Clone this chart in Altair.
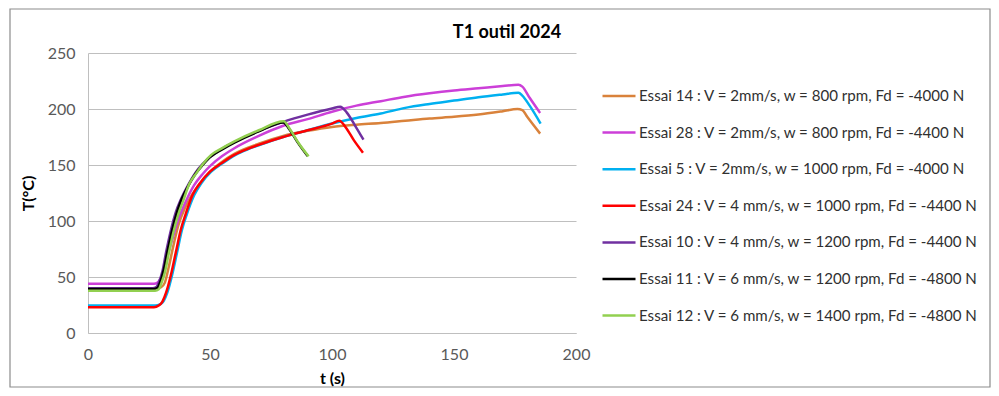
import altair as alt
import pandas as pd

title_text = "T1 outil 2024"
series = [
    "Essai 14 : V = 2mm/s, w = 800 rpm, Fd = -4000 N",
    "Essai 28 : V = 2mm/s, w = 800 rpm, Fd = -4400 N",
    "Essai 5 : V = 2mm/s, w = 1000 rpm, Fd = -4000 N",
    "Essai 24 : V = 4 mm/s, w = 1000 rpm, Fd = -4400 N",
    "Essai 10 : V = 4 mm/s, w = 1200 rpm, Fd = -4400 N",
    "Essai 11 : V = 6 mm/s, w = 1200 rpm, Fd = -4800 N",
    "Essai 12 : V = 6 mm/s, w = 1400 rpm, Fd = -4800 N",
]
colors = ["#D9823B", "#CC3FD8", "#00B0F0", "#FF0000", "#7030A0", "#000000", "#92D050"]

# Essai 14
t_14 = [0, 28, 30, 31.5, 33, 35, 37, 40, 45, 50, 55, 60, 70, 80, 90, 100, 110, 120, 130, 140, 150, 160, 170, 176, 178, 180, 185.3]
T_14 = [40, 40, 41, 45, 58, 78, 96, 113, 131, 144, 153, 160, 169, 176, 180.5, 184, 186, 187.5, 189.5, 191.5, 193, 195, 198, 200, 199, 193, 178]
# Essai 28
t_28 = [0, 27, 28.5, 30, 31.5, 33, 35, 37, 40, 43.5, 47, 50, 55, 60, 70, 80, 90, 100, 110, 120, 130, 140, 150, 160, 170, 176.4, 178, 181, 185.3]
T_28 = [44, 44, 45, 50, 60, 72, 87, 101, 117, 132, 142, 149, 158, 165, 176, 185, 191, 197.5, 203, 207, 211, 214, 216.5, 218.5, 220.5, 221.7, 220, 210, 196.4]
# Essai 5
t_5 = [0, 27.5, 29.5, 31, 32.5, 34.5, 36.5, 38.5, 40.5, 43.5, 46.5, 50.5, 55.5, 60.5, 65.5, 70.5, 80, 90, 100, 110, 120, 130, 140, 150, 160, 170, 176.4, 178, 181, 185.5]
T_5 = [24.5, 24.5, 25.5, 28.5, 36, 52, 72, 92, 106, 123, 134, 144, 152, 159, 164, 168, 175, 181, 187, 192, 196, 201, 204.5, 207.5, 210.5, 213, 214.5, 212, 203, 187]
# Essai 24
t_24 = [0, 27, 29, 30.5, 32, 34, 36, 38, 40, 43, 46, 50, 55, 60, 65, 70, 80, 90, 100, 103, 105.5, 109, 112.7]
T_24 = [23, 23, 24.5, 28, 36, 52, 72, 92, 106, 124, 134, 144, 152, 159, 164, 168, 175, 181, 187, 189.5, 184, 172, 161]
# Essai 10
t_10 = [0, 26.5, 28, 29, 30.5, 32, 34, 36, 38, 41, 44, 47, 50, 55, 60, 70, 80, 90, 100, 103.4, 106, 109.5, 112.9]
T_10 = [40, 40, 41, 45, 55, 72, 92, 108, 119, 132, 143, 151, 157, 164.5, 170.5, 180.5, 188.5, 195, 200.5, 202, 197, 185, 172.6]
# Essai 11
t_11 = [0, 27, 28.5, 29.5, 31, 32.5, 34.5, 36.5, 38.5, 41, 44, 47, 50, 55, 60, 70, 80, 82.5, 86, 90]
T_11 = [39.3, 39.3, 40.5, 45, 56, 72, 92, 108, 120, 131, 142, 150, 157, 164, 170, 180, 188, 182, 170, 158]
# Essai 12
t_12 = [0, 27.5, 29, 30, 31.5, 33, 35, 37, 39, 41.5, 44.5, 47.5, 50.5, 55, 60, 70, 80.2, 82.9, 86.3, 90.4]
T_12 = [37.8, 37.8, 39, 44, 54, 70, 90, 106, 118, 133, 143, 152, 159, 165, 171, 181, 189, 181.5, 169.6, 157.7]

all_t = [t_14, t_28, t_5, t_24, t_10, t_11, t_12]
all_T = [T_14, T_28, T_5, T_24, T_10, T_11, T_12]

rows = []
for name, ts, Ts in zip(series, all_t, all_T):
    for i, (a, b) in enumerate(zip(ts, Ts)):
        rows.append({"serie": name, "t": a, "T": b, "i": i})
df = pd.DataFrame(rows)
df_title = pd.DataFrame({"label": [title_text]})

FONT = "Lato"

color = alt.Color(
    "serie:N",
    scale=alt.Scale(domain=series, range=colors),
    legend=alt.Legend(
        title=None,
        orient="none",
        legendX=513,
        legendY=25,
        symbolType="stroke",
        symbolSize=1089,
        symbolStrokeWidth=2.5,
        labelFont=FONT,
        labelFontSize=15.1,
        labelColor="#303030",
        labelOffset=2,
        rowPadding=9.6,
        labelLimit=500,
        padding=0,
    ),
)

x = alt.X(
    "t:Q",
    scale=alt.Scale(domain=[0, 200], nice=False),
    axis=alt.Axis(
        values=[0, 50, 100, 150, 200], grid=False, ticks=False,
        title="t (s)", titleFont=FONT, titleFontSize=16, titleFontWeight="bold",
        titleColor="#000000", titlePadding=8,
        labelFont=FONT, labelFontSize=16, labelColor="#595959", labelPadding=13,
        domainColor="#BFBFBF", labelFlush=False,
    ),
)
y = alt.Y(
    "T:Q",
    scale=alt.Scale(domain=[0, 250], nice=False),
    axis=alt.Axis(
        values=[0, 50, 100, 150, 200, 250], grid=True, ticks=False,
        gridColor="#BFBFBF", gridWidth=1,
        title="T(°C)", titleFont=FONT, titleFontSize=16, titleFontWeight="bold",
        titleColor="#000000", titlePadding=11,
        labelFont=FONT, labelFontSize=16, labelColor="#595959", labelPadding=13,
        domainColor="#BFBFBF",
    ),
)

layers = []
for name in series:
    layers.append(
        alt.Chart(df)
        .transform_filter(alt.datum.serie == name)
        .mark_line(strokeWidth=2.5, interpolate="monotone")
        .encode(x=x, y=y, color=color, order="i:Q")
    )

border = alt.Chart(df_title).mark_rect(fill=None, stroke="#8C8C8C", strokeWidth=1.2).encode(
    x=alt.value(-78), x2=alt.value(902), y=alt.value(-44), y2=alt.value(334)
)

title = alt.Chart(df_title).mark_text(
    font=FONT, fontSize=18, fontWeight="bold", color="#000000",
    align="center", baseline="middle",
).encode(x=alt.value(419), y=alt.value(-20), text="label:N")

chart = alt.layer(border, title, *layers).properties(
    width=488,
    height=280,
    autosize=alt.AutoSizeParams(type="none"),
    padding={"left": 80, "top": 45, "right": 415, "bottom": 55},
).configure_view(stroke=None)

chart.save("out.html", embed_options={"renderer": "svg", "actions": False})
